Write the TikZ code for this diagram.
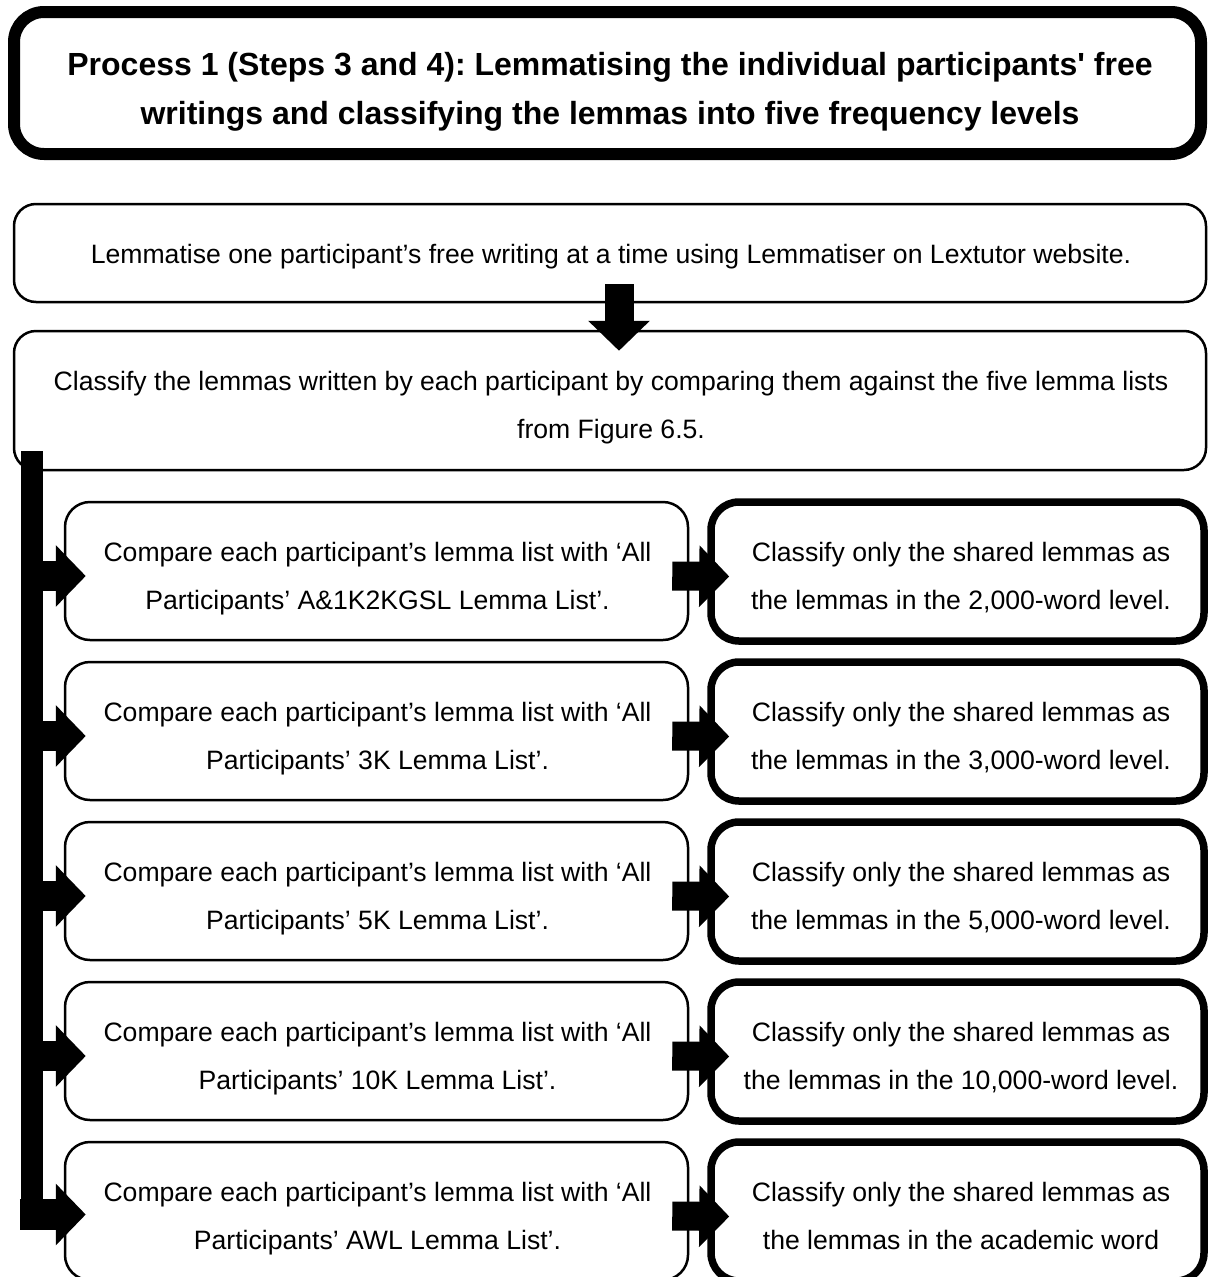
\documentclass[tikz,border=0pt]{standalone}
\usepackage{fontspec}
\setmainfont{Liberation Sans}
\usetikzlibrary{calc,arrows.meta}
\frenchspacing

% strut so every line has the same height and depth
\newcommand\linestrut{\rule[-0.21em]{0pt}{0.94em}}

\tikzset{
  titlebox/.style={draw, line width=12pt, rounded corners=30pt, inner sep=0pt,
    minimum width=1187pt, minimum height=142pt},
  titletext/.style={align=center, inner sep=0pt,
    font=\fontsize{32pt}{49pt}\selectfont\bfseries},
  widebox/.style={draw, line width=2.5pt, rounded corners=22pt, inner sep=0pt,
    minimum width=1192pt},
  cmpbox/.style={draw, line width=2.5pt, rounded corners=25pt, inner sep=0pt,
    minimum width=623pt, minimum height=138pt},
  clsbox/.style={draw, line width=7.5pt, rounded corners=28pt, inner sep=0pt,
    minimum width=493pt, minimum height=139pt},
  body/.style={align=center, inner sep=0pt,
    font=\fontsize{26.6pt}{48pt}\selectfont},
  blockarrow/.style={line width=#1, -{Triangle[length=30pt,width=60pt]}},
  blockarrow/.default=29pt,
}

\begin{document}
\begin{tikzpicture}[x=1pt,y=-1pt]
\useasboundingbox (0,0) rectangle (1208,1277);
\clip (0,0) rectangle (1208,1277);

% heading
\node[titlebox] (title) at (607.5,83) {};
\node[titletext] (titletxt) at (610,92)
  {\linestrut Process 1 (Steps 3 and 4): Lemmatising the individual participants\textquotesingle{} free\\
   \linestrut writings and classifying the lemmas into five frequency levels};

% first two steps
\node[widebox, minimum height=98pt] (lem) at (610,253) {};
\node[body] (lemtxt) at (611,257)
  {\linestrut Lemmatise one participant’s free writing at a time using Lemmatiser on Lextutor website.};

\node[widebox, minimum height=139pt] (cls) at (610,400.5) {};
\node[body] (clstxt) at (611,408)
  {\linestrut Classify the lemmas written by each participant by comparing them against the five lemma lists\\
   \linestrut from Figure 6.5.};

% comparison rows
\foreach \i/\lst/\lvl [count=\n from 0] in {
    1/A\&1K2KGSL/2{,}000-word level.,
    2/3K/3{,}000-word level.,
    3/5K/5{,}000-word level.,
    4/10K/10{,}000-word level.,
    5/AWL/academic word} {
  \pgfmathsetmacro\cy{571+160*\n}
  \node[cmpbox] (cmp\i) at (376.5,\cy) {};
  \node[body] (cmptxt\i) at (377.5,\cy+8)
    {\linestrut Compare each participant’s lemma list with ‘All\\
     \linestrut Participants’ \lst{} Lemma List’.};
  \node[clsbox] (lvl\i) at (957.5,\cy+0.5) {};
  \node[body] (lvltxt\i) at (961,\cy+8)
    {\linestrut Classify only the shared lemmas as\\
     \linestrut the lemmas in the \lvl};
}

% connectors
\draw[blockarrow] ($(lem.south)+(9,-19)$) -- ($(cls.north)+(9,21)$);

\coordinate (bartop) at (32,451);
\coordinate (barbot) at (32,1230);
\draw[line width=22pt] (bartop) -- (barbot);

\foreach \i in {1,2,3,4} {
  \draw[blockarrow=30pt] ($(cmp\i.west)+(-33,5)$) -- ($(cmp\i.west)+(22,5)$);
}
\draw[blockarrow=31pt] ($(cmp5.west)+(-44,3.5)$) -- ($(cmp5.west)+(22,3.5)$);

\foreach \i in {1,...,5} {
  \draw[blockarrow] ($(cmp\i.east)+(-17,5)$) -- ($(lvl\i.west)+(22,5)$);
}
\end{tikzpicture}
\end{document}
